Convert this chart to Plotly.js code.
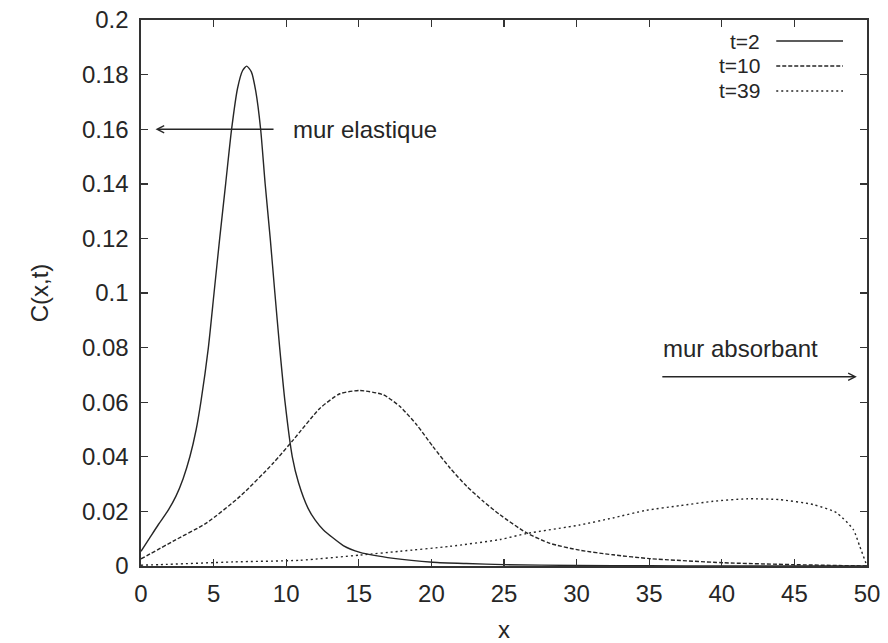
<!DOCTYPE html>
<html>
<head>
<meta charset="utf-8">
<script src="https://cdn.plot.ly/plotly-3.0.1.min.js"></script>
<style>
html,body{margin:0;padding:0;background:#fff;}
#chart{width:888px;height:643px;}
</style>
</head>
<body>
<div id="chart"></div>
<script>
// ---- data ----
const seriesNames = ['t=2', 't=10', 't=39'];

const x_t2 = [0, 0.6, 1.2, 1.8, 2.4, 2.9, 3.37, 3.8, 4.13, 4.64, 5.03, 5.42, 5.83, 6.24, 6.65, 7.0, 7.28, 7.6, 7.9, 8.24, 8.55, 8.9, 9.22, 9.55, 9.92, 10.42, 10.85, 11.5, 12.0, 12.55, 13.93, 15.08, 17.4, 20.1, 22.4, 25, 30, 35, 40, 45, 50];
const y_t2 = [0.0054, 0.0103, 0.0152, 0.0198, 0.0255, 0.0320, 0.0401, 0.0500, 0.0603, 0.0800, 0.1000, 0.1200, 0.1400, 0.1600, 0.1750, 0.1815, 0.1831, 0.1810, 0.1740, 0.1600, 0.1400, 0.1200, 0.1000, 0.0800, 0.0600, 0.0400, 0.0305, 0.0212, 0.0168, 0.0133, 0.0075, 0.0050, 0.0028, 0.0014, 0.0009, 0.0005, 0.0002, 0.0001, 0.0000, 0.0000, 0.0000];

const x_t10 = [0, 2.22, 4.52, 6.82, 9.11, 10.49, 12.33, 13.7, 15.08, 16.69, 17.84, 18.99, 20.1, 21.28, 22.43, 23.57, 24.72, 26.56, 28.17, 30.2, 32.5, 35.05, 40.1, 44.9, 50];
const y_t10 = [0.0026, 0.0091, 0.0158, 0.0255, 0.0377, 0.0462, 0.0578, 0.0631, 0.0643, 0.0627, 0.0584, 0.0517, 0.0438, 0.0359, 0.0292, 0.0237, 0.0188, 0.0121, 0.0083, 0.0058, 0.0041, 0.0027, 0.0012, 0.0005, 0.0000];

const x_t39 = [0, 1.3, 6.36, 10.95, 15.08, 17.84, 21.28, 24.72, 26.56, 30.2, 32.5, 34.8, 37.1, 39.4, 41.7, 44.0, 46.3, 47.9, 49.06, 49.5, 50];
const y_t39 = [0.0003, 0.0005, 0.0015, 0.0021, 0.0040, 0.0054, 0.0072, 0.0097, 0.0119, 0.0150, 0.0176, 0.0204, 0.0221, 0.0237, 0.0246, 0.0243, 0.0225, 0.0195, 0.0133, 0.0072, 0.0000];

const xTickVals = [0, 5, 10, 15, 20, 25, 30, 35, 40, 45, 50];
const xTickText = ['0', '5', '10', '15', '20', '25', '30', '35', '40', '45', '50'];
const yTickVals = [0, 0.02, 0.04, 0.06, 0.08, 0.1, 0.12, 0.14, 0.16, 0.18, 0.2];
const yTickText = ['0', '0.02', '0.04', '0.06', '0.08', '0.1', '0.12', '0.14', '0.16', '0.18', '0.2'];

const xTitle = 'x';
const yTitle = 'C(x,t)';
const noteElastic = 'mur elastique';
const noteAbsorb = 'mur absorbant';

// ---- styling ----
const FONT = 'Liberation Sans, Arial, Helvetica, sans-serif';
const FS = 24;
const LEG_FS = 21;
const INK = '#262626';
const dashes = ['solid', '4px,2px', '2px,3px'];
const xs = [x_t2, x_t10, x_t39];
const ys = [y_t2, y_t10, y_t39];

const traces = seriesNames.map((n, i) => ({
  type: 'scatter', mode: 'lines', name: n,
  x: xs[i], y: ys[i],
  line: {color: INK, width: 1.4, dash: dashes[i], shape: 'spline', smoothing: 0.6},
  showlegend: false, hoverinfo: 'skip'
}));

// custom gnuplot-like legend (text on the left, sample on the right)
const legRowY = [0.9615, 0.9158, 0.870];
const legendAnn = seriesNames.map((n, i) => ({
  xref: 'paper', yref: 'paper', x: 0.854, y: legRowY[i],
  xanchor: 'right', yanchor: 'middle', text: n, showarrow: false,
  borderpad: 0,
  font: {family: FONT, size: LEG_FS, color: INK}
}));
const legendShapes = seriesNames.map((n, i) => ({
  type: 'line', xref: 'paper', yref: 'paper',
  x0: 0.875, x1: 0.967, y0: legRowY[i], y1: legRowY[i],
  line: {color: INK, width: 1.4, dash: dashes[i]}
}));

const annotations = legendAnn.concat([
  {x: 1.0, y: 0.16, ax: 9.23, ay: 0.16, xref: 'x', yref: 'y', axref: 'x', ayref: 'y',
   text: '', showarrow: true, arrowhead: 5, arrowsize: 1, arrowwidth: 1.4, arrowcolor: INK},
  {x: 10.3, y: 0.16, xref: 'x', yref: 'y', text: noteElastic, showarrow: false,
   xanchor: 'left', yanchor: 'middle', font: {family: FONT, size: FS, color: INK}},
  {x: 49.3, y: 0.0693, ax: 35.8, ay: 0.0693, xref: 'x', yref: 'y', axref: 'x', ayref: 'y',
   text: '', showarrow: true, arrowhead: 5, arrowsize: 1, arrowwidth: 1.4, arrowcolor: INK},
  {x: 35.8, y: 0.0797, xref: 'x', yref: 'y', text: noteAbsorb, showarrow: false,
   xanchor: 'left', yanchor: 'middle', font: {family: FONT, size: FS, color: INK}}
]);

const axisCommon = {
  showgrid: false, zeroline: false, showline: true, mirror: 'ticks',
  linecolor: '#333', linewidth: 1.6, ticks: 'inside', ticklen: 7,
  tickcolor: '#333', tickwidth: 1.4,
  tickfont: {family: FONT, size: FS, color: INK},
  tickmode: 'array', automargin: false
};

const layout = {
  width: 888, height: 643,
  margin: {l: 141, r: 21, t: 20, b: 77},
  paper_bgcolor: '#fff', plot_bgcolor: '#fff',
  font: {family: FONT, color: INK},
  xaxis: Object.assign({}, axisCommon, {
    range: [0, 50], tickvals: xTickVals, ticktext: xTickText,
    ticklabelstandoff: 6,
    title: {text: xTitle, font: {family: FONT, size: FS, color: INK}, standoff: 16}
  }),
  yaxis: Object.assign({}, axisCommon, {
    range: [0, 0.2], tickvals: yTickVals, ticktext: yTickText,
    ticklabelstandoff: 6,
    title: {text: yTitle, font: {family: FONT, size: FS, color: INK}, standoff: 26}
  }),
  shapes: legendShapes,
  annotations: annotations,
  showlegend: false
};

Plotly.newPlot('chart', traces, layout, {staticPlot: true, displayModeBar: false});
</script>
</body>
</html>
